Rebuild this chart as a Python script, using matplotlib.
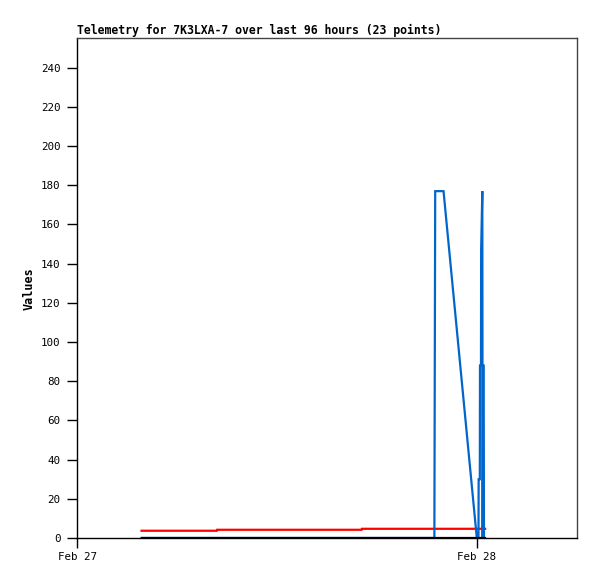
import matplotlib
matplotlib.use("Agg")
import matplotlib.pyplot as plt
from datetime import datetime, timedelta

# ---- data (hours after Feb 27 00:00) ----
blue_hours = [3.86, 21.45, 21.50, 22.00, 24.00, 24.10, 24.11, 24.18, 24.19,
              24.25, 24.26, 24.33, 24.35, 24.37, 24.41, 24.43]
blue_vals = [0, 0, 177, 177, 0, 0, 30, 30, 88,
             88, 147, 177, 0, 88, 88, 0]

red_hours = [3.86, 8.38, 8.40, 17.08, 17.10, 24.50]
red_vals = [3.7, 3.7, 4.2, 4.2, 4.7, 4.7]

black_hours = [3.86, 24.50]
black_vals = [0, 0]

tick_labels = ["Feb 27", "Feb 28"]
y_ticks = list(range(0, 241, 20))

title = "Telemetry for 7K3LXA-7 over last 96 hours (23 points)"
ylabel = "Values"

base = datetime(2025, 2, 27)
def to_dt(hours):
    return [base + timedelta(hours=h) for h in hours]

W, H = 597, 579
fig = plt.figure(figsize=(W / 100, H / 100), dpi=100)
left, right, top, bottom = 77.3, 576.7, 38.3, 538.0
ax = fig.add_axes([left / W, (H - bottom) / H, (right - left) / W, (bottom - top) / H])

lw = 1.6
ax.plot(to_dt(red_hours), red_vals, color="#ff0000", lw=lw, solid_joinstyle="miter")
ax.plot(to_dt(blue_hours), blue_vals, color="#0066cc", lw=lw, solid_joinstyle="miter")
ax.plot(to_dt(black_hours), black_vals, color="#000000", lw=lw)

ax.set_xlim(base, base + timedelta(hours=30))
ax.set_ylim(0, 255)

ax.set_xticks([base, base + timedelta(hours=24)])
ax.set_xticklabels(tick_labels)
ax.set_yticks(y_ticks)
ax.set_yticklabels([str(v) for v in y_ticks])

mono = "DejaVu Sans Mono"
for lab in ax.get_xticklabels() + ax.get_yticklabels():
    lab.set_fontfamily(mono)
    lab.set_fontsize(7.8)

ax.tick_params(axis="both", direction="out", length=7, width=1, color="black")
ax.tick_params(axis="x", pad=3)
ax.tick_params(axis="y", pad=5)
for s in ("left", "bottom"):
    ax.spines[s].set_color("black")
    ax.spines[s].set_linewidth(1)
for s in ("top", "right"):
    ax.spines[s].set_color("#444444")
    ax.spines[s].set_linewidth(1)

ax.set_title(title, loc="left", fontfamily=mono, fontweight="bold", fontsize=8.3, pad=3)
ax.set_ylabel(ylabel, fontfamily=mono, fontweight="bold", fontsize=8.45, labelpad=4)

fig.savefig("out.png", dpi=100)
